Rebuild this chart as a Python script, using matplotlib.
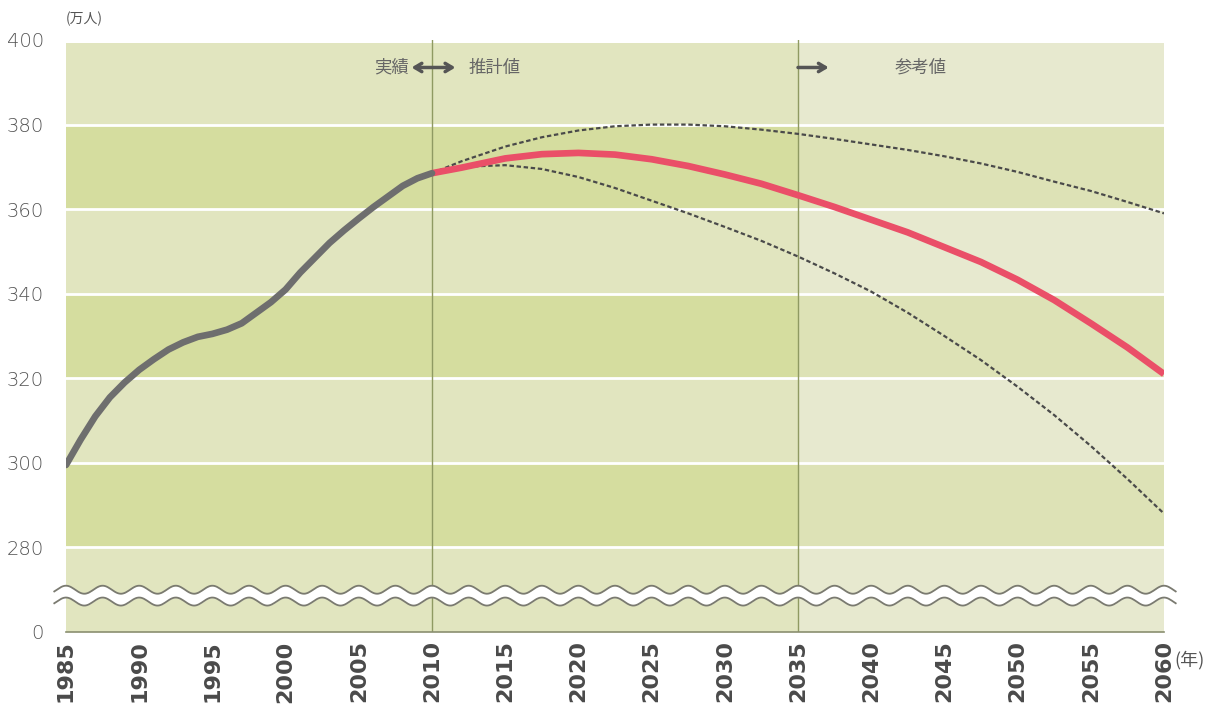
import numpy as np
import matplotlib
matplotlib.use("Agg")
import matplotlib.pyplot as plt

plt.rcParams['font.family'] = ['Noto Sans CJK JP', 'DejaVu Sans']

# actual population (万人), 1985-2010
actual_years = [1985, 1986, 1987, 1988, 1989, 1990, 1991, 1992, 1993, 1994, 1995,
                1996, 1997, 1998, 1999, 2000, 2001, 2002, 2003, 2004, 2005,
                2006, 2007, 2008, 2009, 2010]
actual_vals = [299.5, 305.5, 311.0, 315.5, 319.0, 322.0, 324.5, 326.8, 328.5, 329.8, 330.5,
               331.5, 333.0, 335.5, 338.0, 341.0, 345.0, 348.5, 352.0, 355.0, 357.8,
               360.5, 363.0, 365.5, 367.3, 368.5]

# projections 2010-2060
proj_years = [2010, 2012, 2015, 2017.5, 2020, 2022.5, 2025, 2027.5, 2030, 2032.5, 2035,
              2037.5, 2040, 2042.5, 2045, 2047.5, 2050, 2052.5, 2055, 2057.5, 2060]
mid_vals = [368.5, 369.8, 372.0, 373.0, 373.3, 372.9, 371.8, 370.2, 368.2, 366.0, 363.3,
            360.5, 357.5, 354.5, 351.0, 347.5, 343.3, 338.5, 333.0, 327.3, 321.0]
high_vals = [368.5, 371.3, 374.8, 377.0, 378.6, 379.6, 380.0, 380.0, 379.6, 378.8, 377.8,
             376.6, 375.3, 374.0, 372.5, 370.8, 368.8, 366.5, 364.3, 361.7, 359.0]
low_vals = [368.5, 370.0, 370.4, 369.5, 367.6, 365.0, 362.0, 359.0, 355.8, 352.5, 348.8,
            344.8, 340.5, 335.5, 330.0, 324.3, 318.0, 311.3, 304.0, 296.2, 288.0]

x_ticks = list(range(1985, 2061, 5))
y_ticks = [260, 280, 300, 320, 340, 360, 380, 400]
y_tick_labels = ['0', '280', '300', '320', '340', '360', '380', '400']

fig = plt.figure(figsize=(12.16, 7.11), dpi=100)
fig.patch.set_facecolor('white')
ax = fig.add_axes([66 / 1216, 1 - 632 / 711, (1164 - 66) / 1216, (632 - 40) / 711])
ax.set_xlim(1985, 2060)
ax.set_ylim(260, 399.3)

# background bands
band_edges = [260, 280, 300, 320, 340, 360, 380, 399.3]
for i in range(len(band_edges) - 1):
    dark = (i % 2 == 1)
    c_main = '#d5dd9f' if dark else '#e1e5bf'
    c_ref = '#dde2b6' if dark else '#e7e9cf'
    ax.axhspan(band_edges[i], band_edges[i + 1], xmin=0, xmax=(2035 - 1985) / 75,
               color=c_main, lw=0, zorder=0)
    ax.axhspan(band_edges[i], band_edges[i + 1], xmin=(2035 - 1985) / 75, xmax=1,
               color=c_ref, lw=0, zorder=0)
for y in [280, 300, 320, 340, 360, 380]:
    ax.axhline(y, color='white', lw=2, zorder=1)

ax.axvline(2010, color='#8f9a62', lw=1, zorder=1)
ax.axvline(2035, color='#8f9a62', lw=1, zorder=1)

# axis break (wave)
wx = np.linspace(1984.2, 2060.8, 800)
wave = 0.95 * np.sin((wx - 1985) / 2.5 * 2 * np.pi + np.pi / 2)
ax.fill_between(wx, 267.2 + wave, 270.0 + wave, color='white', zorder=2, clip_on=False, lw=0)
ax.plot(wx, 267.2 + wave, color='#7a7a70', lw=1.3, zorder=3, clip_on=False)
ax.plot(wx, 270.0 + wave, color='#7a7a70', lw=1.3, zorder=3, clip_on=False)

# series
ax.plot(proj_years, high_vals, color='#4a4a4a', lw=1.6, ls=(0, (2, 1.2)), zorder=4)
ax.plot(proj_years, low_vals, color='#4a4a4a', lw=1.6, ls=(0, (2, 1.2)), zorder=4)
ax.plot(proj_years, mid_vals, color='#ea4f68', lw=4.8, zorder=5, solid_capstyle='butt')
ax.plot(actual_years, actual_vals, color='#6e6e6e', lw=4.8, zorder=6, solid_capstyle='round')

# axes styling
for s in ['top', 'right', 'left']:
    ax.spines[s].set_visible(False)
ax.spines['bottom'].set_color('#8a8f70')
ax.spines['bottom'].set_linewidth(1.2)
ax.tick_params(length=0)
ax.set_xticks(x_ticks)
ax.set_xticklabels([str(x) for x in x_ticks], rotation=90, fontsize=16,
                   fontweight='bold', color='#4a4a4a', family='DejaVu Sans')
ax.tick_params(axis='x', pad=6)
ax.set_yticks(y_ticks)
ax.set_yticklabels(y_tick_labels, fontsize=14, color='#555555', family='DejaVu Sans')
ax.tick_params(axis='y', pad=16)
for lbl in ax.get_yticklabels():
    lbl.set_fontweight('light')

# annotations
fig.text(66 / 1216, 1 - 19 / 711, '(万人)', fontsize=10, color='#555555', va='center')
fig.text(1174 / 1216, 1 - 660 / 711, '(年)', fontsize=13, color='#555555', va='center')
ax.text(2008.4, 393.5, '実績', fontsize=12.5, color='#666666', ha='right', va='center')
ax.text(2012.5, 393.5, '推計値', fontsize=12.5, color='#666666', ha='left', va='center')
ax.text(2041.6, 393.5, '参考値', fontsize=12.5, color='#666666', ha='left', va='center')
ax.annotate('', xy=(2008.6, 393.5), xytext=(2011.6, 393.5),
            arrowprops=dict(arrowstyle='<->,head_length=0.5,head_width=0.3', color='#555555',
                            lw=2.5, shrinkA=0, shrinkB=0))
ax.annotate('', xy=(2037.1, 393.5), xytext=(2035.0, 393.5),
            arrowprops=dict(arrowstyle='->,head_length=0.5,head_width=0.3', color='#555555',
                            lw=2.5, shrinkA=0, shrinkB=0))

fig.savefig('out.png', dpi=100)
